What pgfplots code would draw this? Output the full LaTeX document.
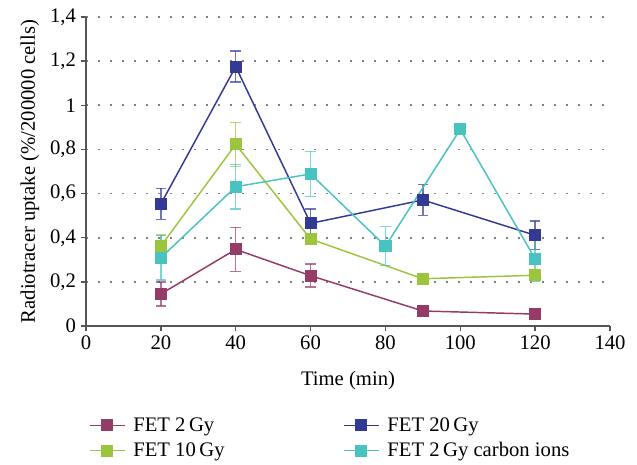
\documentclass[border=0pt]{standalone}
\usepackage{pgfplots}
\pgfplotsset{compat=1.18}
\usepackage{fontspec}
\setmainfont{Liberation Serif}
\definecolor{cMaroon}{HTML}{943B66}
\definecolor{cNavy}{HTML}{333A93}
\definecolor{cGreen}{HTML}{9BC53D}
\definecolor{cTeal}{HTML}{48C3C0}
\definecolor{cAxis}{HTML}{555555}

\begin{document}
\begin{tikzpicture}
\begin{axis}[
 scale only axis,width=393pt,height=231.75pt,
 xmin=0,xmax=140,ymin=0,ymax=1.4,
 xtick={0,20,...,140},ytick={0,0.2,0.4,0.6,0.8,1,1.2,1.4},
 axis x line*=bottom,axis y line*=left,
 axis line style={cAxis,line width=1.1pt},
 tick style={cAxis,line width=1pt},tick align=outside,major tick length=4pt,
 ymajorgrids=true,
 grid style={gray,line width=1.2pt,dash pattern=on 1.2pt off 7.8pt},
 font=\fontsize{15.5}{18}\selectfont,
 ticklabel style={font=\fontsize{15.5}{18}\selectfont},
 /pgf/number format/.cd,use comma,fixed,precision=1,assume math mode=true,
 /pgfplots/.cd,
 xlabel={Time (min)},ylabel={Radiotracer uptake (\%/200000 cells)},
 xlabel style={at={(axis description cs:0.5,-0.175)},anchor=center},
 ylabel style={at={(axis description cs:-0.107,0.5)},anchor=center,rotate=0},
 every axis plot/.append style={line width=1.1pt,mark=square*,mark size=4pt},
 error bars/y dir=both,error bars/y explicit,
 error bars/error bar style={line width=1.1pt,opacity=0.7},
 error bars/error mark options={rotate=90,mark size=4pt,line width=1.1pt},
 legend image code/.code={\draw[mark repeat=2,mark phase=2] plot coordinates {(0pt,0pt) (13pt,0pt) (26pt,0pt)};},
 legend columns=2,
 legend style={draw=none,fill=none,at={(axis description cs:-0.002,-0.278)},anchor=north west,
  font=\fontsize{15.5}{18}\selectfont,row sep=3pt,cells={anchor=west},
  /tikz/every odd column/.append style={column sep=4pt},
  /tikz/every even column/.append style={column sep=87pt}},
]
\addplot[color=cMaroon,mark options={fill=cMaroon}] coordinates {
 (20,0.145) +- (0,0.055)
 (40,0.347) +- (0,0.100)
 (60,0.228) +- (0,0.052)
 (90,0.068) +- (0,0)
 (120,0.054) +- (0,0)
};
\addlegendentry{FET 2\,Gy}
\addplot[color=cNavy,mark options={fill=cNavy}] coordinates {
 (20,0.553) +- (0,0.070)
 (40,1.175) +- (0,0.070)
 (60,0.465) +- (0,0.065)
 (90,0.571) +- (0,0.070)
 (120,0.411) +- (0,0.065)
};
\addlegendentry{FET 20\,Gy}
\addplot[color=cGreen,mark options={fill=cGreen}] coordinates {
 (20,0.362) +- (0,0.050)
 (40,0.823) +- (0,0.100)
 (60,0.394) +- (0,0.010)
 (90,0.214) +- (0,0.020)
 (120,0.230) +- (0,0.010)
};
\addlegendentry{FET 10\,Gy}
\addplot[color=cTeal,mark options={fill=cTeal}] coordinates {
 (20,0.309) +- (0,0.100)
 (40,0.631) +- (0,0.100)
 (60,0.689) +- (0,0.102)
 (80,0.362) +- (0,0.088)
 (100,0.891) +- (0,0)
 (120,0.304) +- (0,0.100)
};
\addlegendentry{FET 2\,Gy carbon ions}
\end{axis}
\pgfresetboundingbox
\path[use as bounding box] ([xshift=-64.5pt,yshift=-103.5pt]current axis.south west) rectangle ([xshift=20.25pt,yshift=12.75pt]current axis.north east);
\end{tikzpicture}
\end{document}
